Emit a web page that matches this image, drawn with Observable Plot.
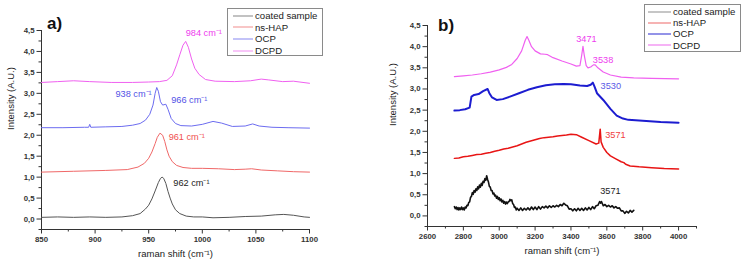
<!DOCTYPE html>
<html><head><meta charset="utf-8">
<script src="https://cdn.jsdelivr.net/npm/d3@7"></script>
<script src="https://cdn.jsdelivr.net/npm/@observablehq/plot@0.6"></script>
<style>
body{margin:0;background:#fff;}
#wrap{position:relative;width:742px;height:262px;font-family:"Liberation Sans",Arial,sans-serif;overflow:hidden;}
.panel{position:absolute;top:0;}
.legend{position:absolute;border:1px solid #8a8a8a;background:#fff;font-size:9.6px;color:#222;box-sizing:border-box;padding-top:1px;}
.legend .row{display:flex;align-items:center;}
.legend svg{flex:none;display:block;}
.tag{position:absolute;font-weight:bold;font-size:17px;color:#111;line-height:1;}
</style></head>
<body><div id="wrap"></div>
<script>
// ---------- categories / legend ----------
const seriesNames = ["coated sample", "ns-HAP", "OCP", "DCPD"];

// ---------- ticks ----------
const yMajor = [0, 0.5, 1, 1.5, 2, 2.5, 3, 3.5, 4, 4.5];
const yMinor = [-0.25, 0.25, 0.75, 1.25, 1.75, 2.25, 2.75, 3.25, 3.75, 4.25];
const aXMajor = [850, 900, 950, 1000, 1050, 1100];
const aXMinor = [875, 925, 975, 1025, 1075];
const bXMajor = [2600, 2800, 3000, 3200, 3400, 3600, 3800, 4000];
const bXMinor = [2700, 2900, 3100, 3300, 3500, 3700, 3900, 4100];

// ---------- panel a spectra [raman shift, intensity] ----------
const aCoated = [[850,0.04],[865,0.05],[880,0.04],[895,0.05],[910,0.04],[925,0.05],[935,0.08],[942,0.13],[947,0.24],[950,0.33],[953,0.48],[956,0.67],[959,0.87],[961,0.97],[962.5,1.0],[964,0.97],[966,0.85],[968,0.66],[970,0.5],[972,0.36],[975,0.22],[979,0.13],[985,0.07],[992,0.05],[1000,0.05],[1010,0.03],[1025,0.04],[1040,0.06],[1055,0.07],[1068,0.1],[1076,0.11],[1085,0.09],[1095,0.05],[1100,0.04]];
const aHAP = [[850,1.12],[880,1.14],[910,1.16],[930,1.18],[940,1.24],[946,1.33],[950,1.45],[953,1.6],[956,1.8],[958,1.95],[960.5,2.05],[963,2.0],[965,1.85],[967,1.65],[969,1.5],[972,1.37],[976,1.28],[982,1.23],[990,1.21],[1000,1.21],[1015,1.2],[1030,1.18],[1040,1.19],[1046,1.2],[1055,1.17],[1070,1.15],[1085,1.13],[1100,1.12]];
const aOCP = [[850,2.18],[870,2.18],[890,2.19],[894,2.19],[895,2.26],[896,2.19],[910,2.2],[925,2.21],[935,2.24],[942,2.28],[947,2.36],[951,2.5],[954,2.72],[956,3.0],[957.5,3.14],[959,3.05],[961,2.8],[963,2.72],[966,2.74],[968,2.62],[971,2.4],[975,2.28],[980,2.23],[990,2.22],[1000,2.26],[1010,2.33],[1018,2.29],[1028,2.21],[1040,2.22],[1047,2.27],[1053,2.22],[1065,2.19],[1080,2.18],[1100,2.17]];
const aDCPD = [[850,3.26],[865,3.28],[880,3.3],[895,3.28],[915,3.26],[935,3.26],[950,3.27],[960,3.28],[967,3.31],[972,3.42],[976,3.68],[979,3.92],[982,4.15],[984.5,4.24],[987,4.1],[990,3.82],[993,3.6],[997,3.45],[1003,3.33],[1012,3.29],[1030,3.28],[1045,3.3],[1055,3.34],[1062,3.32],[1075,3.28],[1085,3.29],[1100,3.24]];

// ---------- panel b spectra ----------
const bCoated = [[2750,0.22],[2755,0.17],[2760,0.21],[2765,0.15],[2770,0.2],[2775,0.14],[2780,0.19],[2785,0.15],[2790,0.21],[2795,0.15],[2800,0.19],[2805,0.14],[2810,0.21],[2815,0.19],[2820,0.25],[2825,0.24],[2830,0.32],[2835,0.33],[2840,0.44],[2845,0.46],[2850,0.55],[2855,0.51],[2860,0.6],[2865,0.56],[2870,0.64],[2875,0.6],[2880,0.69],[2885,0.64],[2890,0.73],[2895,0.68],[2900,0.77],[2905,0.72],[2910,0.82],[2915,0.79],[2920,0.88],[2925,0.84],[2930,0.95],[2935,0.86],[2940,0.8],[2945,0.7],[2950,0.68],[2955,0.6],[2960,0.6],[2965,0.52],[2970,0.54],[2975,0.47],[2980,0.49],[2985,0.42],[2990,0.46],[2995,0.39],[3000,0.43],[3005,0.36],[3010,0.4],[3015,0.33],[3020,0.37],[3025,0.3],[3030,0.34],[3035,0.28],[3040,0.33],[3045,0.29],[3050,0.33],[3055,0.34],[3060,0.39],[3065,0.36],[3070,0.38],[3075,0.29],[3080,0.27],[3085,0.2],[3090,0.21],[3095,0.14],[3100,0.18],[3110,0.13],[3120,0.19],[3130,0.13],[3140,0.18],[3150,0.14],[3160,0.19],[3170,0.14],[3180,0.21],[3190,0.15],[3200,0.21],[3210,0.15],[3220,0.22],[3230,0.16],[3240,0.22],[3250,0.19],[3260,0.23],[3270,0.19],[3280,0.24],[3290,0.2],[3300,0.24],[3310,0.21],[3320,0.25],[3330,0.22],[3340,0.27],[3350,0.24],[3360,0.3],[3370,0.26],[3380,0.24],[3390,0.16],[3400,0.17],[3410,0.12],[3420,0.17],[3430,0.12],[3440,0.18],[3450,0.13],[3460,0.18],[3470,0.13],[3480,0.19],[3490,0.14],[3500,0.2],[3510,0.15],[3520,0.22],[3530,0.17],[3540,0.24],[3550,0.25],[3560,0.34],[3565,0.3],[3570,0.34],[3580,0.24],[3590,0.27],[3600,0.22],[3610,0.25],[3620,0.21],[3630,0.24],[3640,0.19],[3650,0.22],[3660,0.18],[3670,0.19],[3680,0.12],[3690,0.12],[3700,0.06],[3710,0.11],[3720,0.07],[3730,0.13],[3740,0.09],[3750,0.13]];
const bHAP = [[2750,1.36],[2775,1.37],[2800,1.4],[2825,1.41],[2850,1.43],[2875,1.45],[2900,1.46],[2925,1.48],[2950,1.5],[2975,1.53],[3000,1.55],[3025,1.58],[3050,1.6],[3075,1.63],[3100,1.66],[3125,1.7],[3150,1.74],[3175,1.77],[3200,1.8],[3225,1.83],[3250,1.85],[3275,1.86],[3300,1.87],[3325,1.89],[3350,1.9],[3375,1.91],[3400,1.93],[3430,1.92],[3460,1.86],[3500,1.78],[3540,1.7],[3555,1.72],[3563,2.05],[3568,1.75],[3580,1.62],[3600,1.5],[3620,1.42],[3650,1.35],[3680,1.28],[3695,1.26],[3705,1.22],[3730,1.18],[3780,1.16],[3850,1.14],[3920,1.12],[4000,1.11]];
const bOCP = [[2750,2.49],[2780,2.5],[2810,2.52],[2835,2.56],[2845,2.82],[2860,2.86],[2885,2.88],[2910,2.95],[2935,3.0],[2945,2.9],[2960,2.8],[2985,2.74],[3020,2.76],[3060,2.82],[3110,2.9],[3160,2.98],[3210,3.04],[3260,3.09],[3310,3.11],[3360,3.12],[3400,3.11],[3450,3.08],[3490,3.07],[3510,3.1],[3522,3.15],[3532,3.05],[3545,2.9],[3580,2.74],[3620,2.53],[3655,2.37],[3690,2.3],[3720,2.27],[3800,2.25],[3900,2.22],[4000,2.2]];
const bDCPD = [[2750,3.29],[2800,3.31],[2850,3.33],[2900,3.36],[2950,3.4],[3000,3.45],[3040,3.51],[3070,3.58],[3100,3.72],[3125,3.9],[3145,4.15],[3155,4.24],[3165,4.15],[3180,4.0],[3200,3.9],[3230,3.83],[3255,3.82],[3270,3.81],[3300,3.74],[3350,3.66],[3400,3.59],[3430,3.54],[3450,3.55],[3460,3.8],[3467,4.01],[3474,3.8],[3485,3.55],[3495,3.5],[3510,3.52],[3525,3.57],[3535,3.57],[3550,3.5],[3580,3.4],[3620,3.33],[3680,3.28],[3750,3.26],[3850,3.25],[4000,3.24]];

// ---------- peak annotations [x, y, text, series index] ----------
const aPeaks = [[984.5,4.45,"984 cm⁻¹",3],[919,2.99,"938 cm⁻¹",2],[971,2.85,"966 cm⁻¹",2],[968.6,1.95,"961 cm⁻¹",1],[973,0.85,"962 cm⁻¹",0]];
const bPeaks = [[3429,4.19,"3471",3],[3522,3.69,"3538",3],[3565,3.08,"3530",2],[3591,1.92,"3571",1],[3563,0.59,"3571",0]];

// ---------- styles ----------
const aLine = ["#555555", "#f06868", "#6c6cf0", "#f060f0"];
const bLine = ["#111111", "#e81515", "#1c1cd0", "#f060f0"];
const aText = ["#222222", "#f05050", "#5252e6", "#ee3cee"];
const bText = ["#222222", "#f04040", "#5a5ae6", "#ee3cee"];
const aLegend = ["#9a9a9a", "#f4a0a0", "#9a9af4", "#f4a0f4"];
const bLegend = ["#a0a0a0", "#f08080", "#4a4ad8", "#f080f0"];

const fmtY = d => d3.format(".1f")(d).replace(".", ",");
const fmtX = d => String(d);
const FONT = "Liberation Sans, Arial, sans-serif";

function panel(o) {
  const lines = o.series.map((s, i) => Plot.line(s, {x: d => d[0], y: d => d[1], stroke: o.colors[i], strokeWidth: o.widths[i]}));
  return Plot.plot({
    width: 371, height: 262,
    marginLeft: o.ml, marginRight: o.mr, marginTop: o.mt, marginBottom: o.mb,
    x: {domain: o.xDomain}, y: {domain: [-0.25, 4.5]},
    style: {fontFamily: FONT, background: "transparent", overflow: "visible"},
    marks: [
      Plot.axisY({ticks: yMinor, tickSize: 2.5, text: null, label: null, stroke: "#333"}),
      Plot.axisY({ticks: yMajor, tickSize: 4.5, tickPadding: 2.5, tickFormat: fmtY, fontSize: 7.8, fontWeight: "bold", fill: "#333", stroke: "#333", label: null}),
      Plot.axisX({ticks: o.xMinor, tickSize: 2.5, text: null, label: null, stroke: "#333"}),
      Plot.axisX({ticks: o.xMajor, tickSize: 4.5, tickPadding: 2, tickFormat: fmtX, fontSize: 7.8, fontWeight: "bold", fill: "#333", stroke: "#333", label: null}),
      Plot.ruleX([o.xDomain[0]], {stroke: "#333"}),
      Plot.ruleY([-0.25], {stroke: "#333"}),
      Plot.text(["raman shift (cm⁻¹)"], {frameAnchor: "bottom", dy: o.xlabDy, fontSize: 9.5, fill: "#222"}),
      Plot.text(["Intensity (A.U.)"], {frameAnchor: "left", rotate: -90, dx: o.ylabDx, fontSize: 9.5, fill: "#222"}),
      ...lines,
      Plot.text(o.peaks, {x: d => d[0], y: d => d[1], text: d => d[2], fill: d => o.textColors[d[3]], textAnchor: "start", fontSize: 9.2})
    ]
  });
}

const wrap = document.getElementById("wrap");

const pa = panel({series: [aCoated, aHAP, aOCP, aDCPD], colors: aLine, widths: [1, 1, 1, 1],
  xDomain: [850, 1100], xMajor: aXMajor, xMinor: aXMinor, ml: 41, mr: 62, mt: 30, mb: 33,
  xlabDy: 27.5, ylabDx: -31, peaks: aPeaks, textColors: aText});
pa.classList.add("panel"); pa.style.left = "0px";
wrap.appendChild(pa);

const pb = panel({series: [bCoated, bHAP, bOCP, bDCPD], colors: bLine, widths: [1.6, 1.5, 2, 1.2],
  xDomain: [2600, 4100], xMajor: bXMajor, xMinor: bXMinor, ml: 56, mr: 46, mt: 25, mb: 36,
  xlabDy: 27, ylabDx: -35, peaks: bPeaks, textColors: bText});
pb.classList.add("panel"); pb.style.left = "371px";
wrap.appendChild(pb);

const SVGNS = "http://www.w3.org/2000/svg";
function legend(left, top, w, h, rowH, swL, swW, colors) {
  const box = document.createElement("div");
  box.className = "legend";
  Object.assign(box.style, {left: left + "px", top: top + "px", width: w + "px", height: h + "px"});
  seriesNames.forEach((name, i) => {
    const row = document.createElement("div");
    row.className = "row"; row.style.height = rowH + "px";
    const sw = document.createElementNS(SVGNS, "svg");
    sw.setAttribute("width", swW); sw.setAttribute("height", 6);
    sw.style.marginLeft = swL + "px"; sw.style.marginRight = "2px";
    const ln = document.createElementNS(SVGNS, "line");
    ln.setAttribute("x1", 0); ln.setAttribute("x2", swW); ln.setAttribute("y1", 3); ln.setAttribute("y2", 3);
    ln.setAttribute("stroke", colors[i]); ln.setAttribute("stroke-width", 1.2);
    sw.appendChild(ln);
    const t = document.createElement("span"); t.textContent = name;
    row.appendChild(sw); row.appendChild(t); box.appendChild(row);
  });
  wrap.appendChild(box);
}
legend(227, 8, 96, 48, 11.6, 5, 20, aLegend);
legend(644, 4, 97, 48, 11.2, 3, 23, bLegend);

function tag(txt, left, top) {
  const d = document.createElement("div"); d.className = "tag"; d.textContent = txt;
  d.style.left = left + "px"; d.style.top = top + "px"; wrap.appendChild(d);
}
tag("a)", 47, 15);
tag("b)", 438, 17);
</script></body></html>
